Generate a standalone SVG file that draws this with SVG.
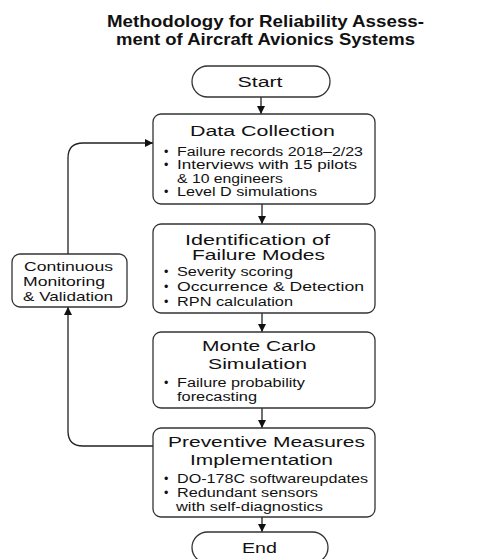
<svg xmlns="http://www.w3.org/2000/svg" width="485" height="559" viewBox="0 0 485 559">
  <defs>
    <marker id="arrow" viewBox="0 0 10 10" refX="10" refY="5" markerWidth="8" markerHeight="8" markerUnits="userSpaceOnUse" orient="auto">
      <path d="M0,0 L10,5 L0,10 Z" fill="#111"/>
    </marker>
    <style>
      .box { fill: #fff; stroke: #333; stroke-width: 1.3; }
      .edge { fill: none; stroke: #222; stroke-width: 1.3; marker-end: url(#arrow); }
      text { font-family: "Liberation Sans", Arial, sans-serif; fill: #111; }
      .title { font-size: 16.5px; font-weight: bold; text-anchor: middle; }
      .head { font-size: 15.5px; text-anchor: middle; }
      .head.tight { font-size: 14.5px; }
      .item { font-size: 12.5px; }
      .side { font-size: 13px; }
    </style>
  </defs>

  <!-- heading -->
  <text class="title" x="265.5" y="27" textLength="317" lengthAdjust="spacingAndGlyphs">Methodology for Reliability Assess-</text>
  <text class="title" x="265.5" y="45" textLength="299" lengthAdjust="spacingAndGlyphs">ment of Aircraft Avionics Systems</text>

  <!-- connectors -->
  <g id="connectors">
    <path class="edge" d="M261,97 V114"/>
    <path class="edge" d="M262,204 V224"/>
    <path class="edge" d="M262,313 V332"/>
    <path class="edge" d="M262,408 V428"/>
    <path class="edge" d="M262,517 V532"/>
    <path class="edge" d="M153,446 H83 Q68,446 68,431 V307"/>
    <path class="edge" d="M68,254 V158 Q68,143 83,143 H153"/>
  </g>

  <g id="start">
    <rect class="box" x="192" y="66" width="138" height="31" rx="15.5"/>
    <text class="head" x="260" y="87" textLength="45" lengthAdjust="spacingAndGlyphs">Start</text>
  </g>

  <g id="data-collection">
    <rect class="box" x="153" y="114" width="222" height="90" rx="8"/>
    <text class="head" x="262.5" y="135.5" textLength="145" lengthAdjust="spacingAndGlyphs">Data Collection</text>
    <text class="item" x="164" y="156">•</text>
    <text class="item" x="177" y="156" textLength="186" lengthAdjust="spacingAndGlyphs">Failure records 2018–2/23</text>
    <text class="item" x="164" y="169">•</text>
    <text class="item" x="177" y="169" textLength="180" lengthAdjust="spacingAndGlyphs">Interviews with 15 pilots</text>
    <text class="item" x="177" y="182.5" textLength="106" lengthAdjust="spacingAndGlyphs">&amp; 10 engineers</text>
    <text class="item" x="164" y="196">•</text>
    <text class="item" x="177" y="196" textLength="140" lengthAdjust="spacingAndGlyphs">Level D simulations</text>
  </g>

  <g id="failure-modes">
    <rect class="box" x="153" y="224" width="222" height="89" rx="8"/>
    <text class="head tight" x="257.5" y="245" textLength="145" lengthAdjust="spacingAndGlyphs">Identification of</text>
    <text class="head tight" x="258.5" y="260" textLength="133" lengthAdjust="spacingAndGlyphs">Failure Modes</text>
    <text class="item" x="164" y="276">•</text>
    <text class="item" x="177" y="276" textLength="116" lengthAdjust="spacingAndGlyphs">Severity scoring</text>
    <text class="item" x="164" y="291">•</text>
    <text class="item" x="177" y="291" textLength="187" lengthAdjust="spacingAndGlyphs">Occurrence &amp; Detection</text>
    <text class="item" x="164" y="305.5">•</text>
    <text class="item" x="177" y="305.5" textLength="116" lengthAdjust="spacingAndGlyphs">RPN calculation</text>
  </g>

  <g id="monte-carlo">
    <rect class="box" x="153" y="332" width="222" height="76" rx="8"/>
    <text class="head" x="259" y="350.5" textLength="114" lengthAdjust="spacingAndGlyphs">Monte Carlo</text>
    <text class="head" x="257.5" y="369" textLength="99" lengthAdjust="spacingAndGlyphs">Simulation</text>
    <text class="item" x="164" y="386.5">•</text>
    <text class="item" x="177" y="386.5" textLength="128" lengthAdjust="spacingAndGlyphs">Failure probability</text>
    <text class="item" x="177" y="400.5" textLength="80" lengthAdjust="spacingAndGlyphs">forecasting</text>
  </g>

  <g id="preventive-measures">
    <rect class="box" x="153" y="428" width="222" height="89" rx="8"/>
    <text class="head" x="266.5" y="446.5" textLength="197" lengthAdjust="spacingAndGlyphs">Preventive Measures</text>
    <text class="head" x="261.5" y="465" textLength="143" lengthAdjust="spacingAndGlyphs">Implementation</text>
    <text class="item" x="164" y="482.5">•</text>
    <text class="item" x="177" y="482.5" textLength="191" lengthAdjust="spacingAndGlyphs">DO-178C softwareupdates</text>
    <text class="item" x="164" y="496.5">•</text>
    <text class="item" x="177" y="496.5" textLength="141" lengthAdjust="spacingAndGlyphs">Redundant sensors</text>
    <text class="item" x="176" y="510.5" textLength="147" lengthAdjust="spacingAndGlyphs">with self-diagnostics</text>
  </g>

  <g id="end">
    <rect class="box" x="192" y="532" width="136" height="31" rx="15.5"/>
    <text class="head" x="259.5" y="553" textLength="35" lengthAdjust="spacingAndGlyphs">End</text>
  </g>

  <g id="monitoring">
    <rect class="box" x="12" y="254" width="115" height="53" rx="8"/>
    <text class="side" x="24" y="271" textLength="89" lengthAdjust="spacingAndGlyphs">Continuous</text>
    <text class="side" x="23" y="285.5" textLength="82" lengthAdjust="spacingAndGlyphs">Monitoring</text>
    <text class="side" x="23" y="300.5" textLength="90" lengthAdjust="spacingAndGlyphs">&amp; Validation</text>
  </g>
</svg>
